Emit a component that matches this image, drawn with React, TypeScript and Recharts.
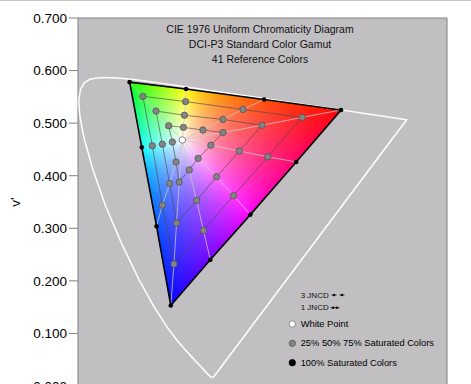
import React from "react";
import {
  ScatterChart,
  Scatter,
  XAxis,
  YAxis,
  CartesianGrid,
  ReferenceLine,
  Legend,
} from "recharts";

const FONT = "'Liberation Sans', Arial, Helvetica, sans-serif";

// CIE 1976 spectral locus, 380 -> 700 nm
const LOCUS_NM = [
  380, 420, 430, 440, 445, 450, 455, 460, 465, 470, 475, 480, 485, 490, 495,
  500, 505, 510, 515, 520, 525, 530, 535, 540, 545, 550, 560, 570, 580, 590,
  600, 610, 620, 630, 640, 650, 660, 680, 700,
];
const LOCUS_U = [
  0.2568, 0.2522, 0.2461, 0.2347, 0.2266, 0.2161, 0.2033, 0.1877, 0.169,
  0.1441, 0.1147, 0.0828, 0.0521, 0.0282, 0.0119, 0.0035, 0.0014, 0.0046,
  0.0123, 0.0231, 0.036, 0.0501, 0.0643, 0.0792, 0.0953, 0.1127, 0.1531,
  0.2026, 0.2623, 0.3315, 0.4035, 0.4692, 0.5203, 0.5565, 0.583, 0.6005,
  0.6109, 0.6198, 0.6234,
];
const LOCUS_V = [
  0.0166, 0.0169, 0.0226, 0.035, 0.0437, 0.0549, 0.0689, 0.0871, 0.1119,
  0.151, 0.2044, 0.2708, 0.3427, 0.4117, 0.4698, 0.5131, 0.5432, 0.5638,
  0.577, 0.5837, 0.5861, 0.5868, 0.5865, 0.5856, 0.5841, 0.5821, 0.5766,
  0.5694, 0.5604, 0.5501, 0.5393, 0.5296, 0.5219, 0.5165, 0.5125, 0.5099,
  0.5084, 0.5069, 0.5065,
];

// white point (u', v')
const WHITE_POINT: [number, number] = [0.198, 0.468];

// 10 hues: G, Y, O, R, rose, M, violet, B, azure, C
const SAT_100: [number, number][] = [
  [0.098, 0.578], [0.205, 0.565], [0.353, 0.545], [0.499, 0.525], [0.414, 0.426],
  [0.327, 0.326], [0.251, 0.24], [0.176, 0.153], [0.149, 0.304], [0.121, 0.454],
];
const SAT_75: [number, number][] = [
  [0.123, 0.551], [0.204, 0.541], [0.313, 0.526], [0.425, 0.511], [0.36, 0.436],
  [0.295, 0.362], [0.238, 0.296], [0.182, 0.232], [0.16, 0.344], [0.141, 0.457],
];
const SAT_50: [number, number][] = [
  [0.148, 0.523], [0.202, 0.515], [0.275, 0.507], [0.349, 0.496], [0.306, 0.447],
  [0.263, 0.398], [0.225, 0.353], [0.187, 0.31], [0.174, 0.385], [0.16, 0.46],
];
const SAT_25: [number, number][] = [
  [0.172, 0.495], [0.2, 0.492], [0.237, 0.487], [0.275, 0.482], [0.252, 0.458],
  [0.228, 0.433], [0.211, 0.411], [0.192, 0.388], [0.186, 0.426], [0.179, 0.464],
];

const Y_TICKS = [0, 0.1, 0.2, 0.3, 0.4, 0.5, 0.6, 0.7];

const TITLE_LINES = [
  "CIE 1976 Uniform Chromaticity Diagram",
  "DCI-P3 Standard Color Gamut",
  "41 Reference Colors",
];

type Pt = { u: number; v: number };
const toPts = (arr: [number, number][]): Pt[] => arr.map(([u, v]) => ({ u, v }));
const closed = (pts: Pt[]) => [...pts, pts[0]];

const locusData = closed(LOCUS_U.map((u, i) => ({ u, v: LOCUS_V[i], nm: LOCUS_NM[i] })));
const whiteData = toPts([WHITE_POINT]);
const gamutData = toPts([SAT_100[0], SAT_100[3], SAT_100[7]]);
const ringData = [SAT_25, SAT_50, SAT_75].map((r) => closed(toPts(r)));
const outlineData = closed(toPts(SAT_100));
const spokeData = SAT_100.map((_, i) =>
  toPts([WHITE_POINT, SAT_25[i], SAT_50[i], SAT_75[i], SAT_100[i]])
);
const grayData = toPts([...SAT_25, ...SAT_50, ...SAT_75]);
const blackData = toPts(SAT_100);

const NoDot = () => <g />;
const GrayDot = (p: any) => (
  <circle cx={p.cx} cy={p.cy} r={3.2} fill="#848484" stroke="#4e4e4e" strokeWidth={0.7} />
);
const BlackDot = (p: any) => <circle cx={p.cx} cy={p.cy} r={2.3} fill="#000" />;
const WhiteDot = (p: any) => (
  <circle cx={p.cx} cy={p.cy} r={3.2} fill="#fff" stroke="#6a6a6a" strokeWidth={0.8} />
);

// share of each primary at the white point (r, g, b), used to shade the gamut
const WHITE_MIX = [0.204, 0.561, 0.235];

// gamut triangle shaded by chromaticity, corners come from the scatter's own points
function GamutFill(props: any) {
  const pts = props.points as { x: number; y: number }[];
  if (!pts || pts.length < 3 || typeof document === "undefined") return <g />;
  const [g, r, b] = pts;
  const x0 = Math.floor(Math.min(g.x, r.x, b.x)) - 1;
  const y0 = Math.floor(Math.min(g.y, r.y, b.y)) - 1;
  const w = Math.ceil(Math.max(g.x, r.x, b.x)) + 1 - x0;
  const h = Math.ceil(Math.max(g.y, r.y, b.y)) + 1 - y0;
  const canvas = document.createElement("canvas");
  canvas.width = w;
  canvas.height = h;
  const ctx = canvas.getContext("2d");
  if (!ctx) return <g />;
  const img = ctx.createImageData(w, h);
  const det = (g.y - b.y) * (r.x - b.x) + (b.x - g.x) * (r.y - b.y);
  for (let j = 0; j < h; j++) {
    for (let i = 0; i < w; i++) {
      const px = x0 + i + 0.5;
      const py = y0 + j + 0.5;
      let lr = ((g.y - b.y) * (px - b.x) + (b.x - g.x) * (py - b.y)) / det;
      let lg = ((b.y - r.y) * (px - b.x) + (r.x - b.x) * (py - b.y)) / det;
      let lb = 1 - lr - lg;
      lr = Math.max(0, lr);
      lg = Math.max(0, lg);
      lb = Math.max(0, lb);
      const c = [lr / WHITE_MIX[0], lg / WHITE_MIX[1], lb / WHITE_MIX[2]];
      const m = Math.max(c[0], c[1], c[2]) || 1;
      const k = (j * w + i) * 4;
      img.data[k] = Math.round(255 * Math.pow(c[0] / m, 0.72));
      img.data[k + 1] = Math.round(255 * Math.pow(c[1] / m, 0.72));
      img.data[k + 2] = Math.round(255 * Math.pow(c[2] / m, 0.72));
      img.data[k + 3] = 255;
    }
  }
  ctx.putImageData(img, 0, 0);
  const poly = pts.map((p) => `${p.x},${p.y}`).join(" ");
  return (
    <g>
      <defs>
        <clipPath id="gamut-clip">
          <polygon points={poly} />
        </clipPath>
      </defs>
      <image
        href={canvas.toDataURL()}
        x={x0}
        y={y0}
        width={w}
        height={h}
        clipPath="url(#gamut-clip)"
        preserveAspectRatio="none"
      />
    </g>
  );
}

function Key() {
  const jncd = (x: number, y: number) => (
    <g key={`${x}-${y}`}>
      <line x1={x - 2.6} y1={y} x2={x + 2.6} y2={y} stroke="#222" strokeWidth={0.8} />
      <circle cx={x} cy={y} r={1.3} fill="#111" />
    </g>
  );
  const rows = [
    { label: "White Point", fill: "#fff", stroke: "#777", y: 38 },
    { label: "25% 50% 75% Saturated Colors", fill: "#848484", stroke: "#5a5a5a", y: 57.3 },
    { label: "100% Saturated Colors", fill: "#000", stroke: "#000", y: 76.7 },
  ];
  return (
    <svg width={180} height={90} style={{ fontFamily: FONT, display: "block" }}>
      <text x={16.7} y={9} fontSize={8} fill="#111" dominantBaseline="central">
        3 JNCD
      </text>
      {jncd(50, 9)}
      {jncd(58, 9)}
      <text x={16.7} y={21.7} fontSize={8} fill="#111" dominantBaseline="central">
        1 JNCD
      </text>
      {jncd(49, 21.7)}
      {jncd(53, 21.7)}
      {rows.map((r) => (
        <g key={r.label}>
          <circle cx={8.3} cy={r.y} r={3.2} fill={r.fill} stroke={r.stroke} strokeWidth={0.8} />
          <text x={16.7} y={r.y} fontSize={9.3} fill="#000" dominantBaseline="central">
            {r.label}
          </text>
        </g>
      ))}
    </svg>
  );
}

export default function App() {
  return (
    <div
      style={{
        position: "absolute",
        left: 0,
        top: 0,
        width: 471,
        height: 384,
        overflow: "hidden",
        background: "#fff",
        fontFamily: FONT,
      }}
    >
      <div style={{ position: "absolute", left: 0, top: 0, width: 471, height: 1, background: "#c4c4c4" }} />
      <ScatterChart
        width={471}
        height={400}
        margin={{ top: 18, right: 24, bottom: 14, left: 0 }}
      >
        <CartesianGrid fill="#c1bfc2" horizontal={false} vertical={false} />
        <XAxis type="number" dataKey="u" domain={[0, 0.7]} hide />
        <YAxis
          type="number"
          dataKey="v"
          domain={[0, 0.7]}
          ticks={Y_TICKS}
          width={78}
          tickFormatter={(t: number) => t.toFixed(3)}
          tick={{ fill: "#000", fontSize: 13.5, fontFamily: FONT }}
          tickSize={9}
          tickMargin={2}
          axisLine={{ stroke: "#808080" }}
          tickLine={{ stroke: "#808080" }}
          label={{
            content: ({ viewBox }: any) => {
              const cy = viewBox.y + viewBox.height / 2;
              return (
                <text
                  x={15}
                  y={cy}
                  transform={`rotate(-90 15 ${cy})`}
                  textAnchor="middle"
                  dominantBaseline="central"
                  fontSize={13.5}
                  fontFamily={FONT}
                  fill="#000"
                >
                  v'
                </text>
              );
            },
          }}
        />
        <ReferenceLine y={0.7} stroke="#808080" />
        <ReferenceLine x={0.7} stroke="#808080" />

        <Scatter
          data={locusData}
          line={{ stroke: "#ffffff", strokeWidth: 1.5 }}
          lineType="joint"
          shape={NoDot}
          isAnimationActive={false}
        />
        <Scatter
          data={gamutData}
          line={(p: any) => <GamutFill {...p} />}
          lineType="joint"
          shape={NoDot}
          isAnimationActive={false}
        />
        {spokeData.map((d, i) => (
          <Scatter
            key={`spoke-${i}`}
            data={d}
            line={{ stroke: "#c6c6c6", strokeWidth: 0.8 }}
            lineType="joint"
            shape={NoDot}
            isAnimationActive={false}
          />
        ))}
        {ringData.map((d, i) => (
          <Scatter
            key={`ring-${i}`}
            data={d}
            line={{ stroke: "#4a4a4a", strokeWidth: 0.8, strokeOpacity: 0.8 }}
            lineType="joint"
            shape={NoDot}
            isAnimationActive={false}
          />
        ))}
        <Scatter
          data={outlineData}
          line={{ stroke: "#000", strokeWidth: 1.6 }}
          lineType="joint"
          shape={NoDot}
          isAnimationActive={false}
        />
        <Scatter data={grayData} shape={GrayDot} isAnimationActive={false} />
        <Scatter data={whiteData} shape={WhiteDot} isAnimationActive={false} />
        <Scatter data={blackData} shape={BlackDot} isAnimationActive={false} />

        <Legend
          layout="vertical"
          align="center"
          verticalAlign="middle"
          content={() => <Key />}
          wrapperStyle={{ left: 284, top: 286, width: 180, height: 90 }}
        />
      </ScatterChart>
      <div
        style={{
          position: "absolute",
          left: 0,
          top: 22,
          width: 520,
          textAlign: "center",
          fontSize: 10.5,
          lineHeight: "15px",
          color: "#111",
          pointerEvents: "none",
        }}
      >
        {TITLE_LINES.map((t) => (
          <div key={t}>{t}</div>
        ))}
      </div>
    </div>
  );
}
